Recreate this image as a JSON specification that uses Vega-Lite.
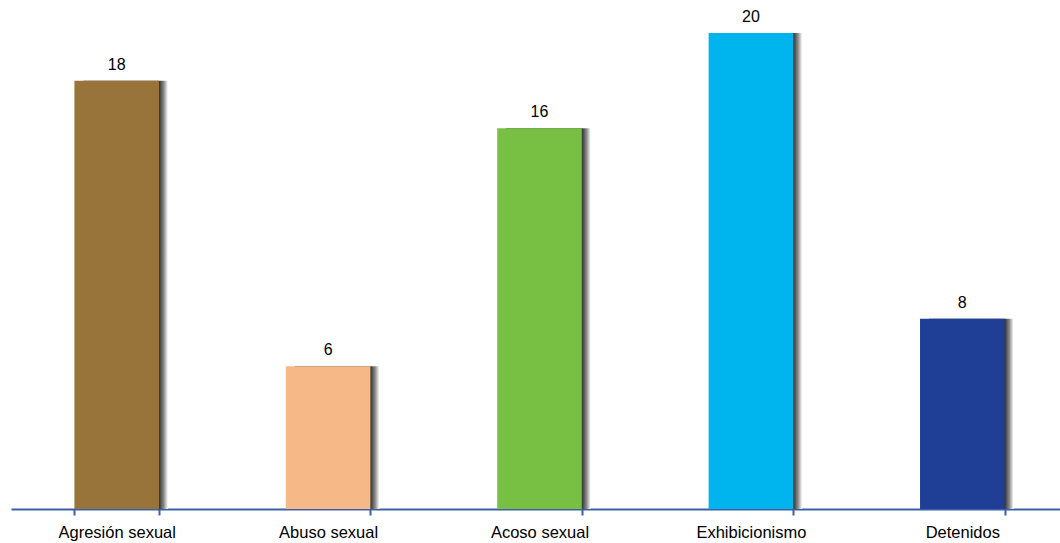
{
  "$schema": "https://vega.github.io/schema/vega-lite/v6.json",
  "width": 1057,
  "height": 509,
  "autosize": {"type": "none"},
  "padding": {"left": 11, "top": 0, "right": 0, "bottom": 34},
  "background": "white",
  "config": {"view": {"stroke": null}, "font": "Liberation Sans"},
  "data": {"values": [
    {"cat": "Agresión sexual", "value": 18, "color": "#98743A"},
    {"cat": "Abuso sexual", "value": 6, "color": "#F5B886"},
    {"cat": "Acoso sexual", "value": 16, "color": "#77C043"},
    {"cat": "Exhibicionismo", "value": 20, "color": "#00B5EE"},
    {"cat": "Detenidos", "value": 8, "color": "#1F3F96"}
  ]},
  "encoding": {
    "x": {"field": "cat", "type": "nominal", "sort": null,
      "scale": {"paddingInner": 0.6, "paddingOuter": 0.3},
      "axis": {"title": null, "labelAngle": 0, "labelFontSize": 16.5, "labelColor": "#000000",
        "labelFont": "Liberation Sans", "domainColor": "#3D5FA8", "domainWidth": 2,
        "tickColor": "#3D5FA8", "tickWidth": 2, "tickSize": 6, "tickBand": "extent",
        "labelPadding": 9}},
    "y": {"field": "value", "type": "quantitative", "scale": {"domain": [0, 21.39], "nice": false}, "axis": null}
  },
  "layer": [
    {"mark": {"type": "bar", "xOffset": 9,
      "color": {"gradient": "linear", "x1": 0, "x2": 1, "y1": 0, "y2": 0,
        "stops": [{"offset": 0, "color": "#3a3a3a"}, {"offset": 0.9, "color": "#3a3a3a"}, {"offset": 0.95, "color": "#8a8a8a"}, {"offset": 1, "color": "#ffffff"}]}}},
    {"mark": {"type": "bar"}, "encoding": {"color": {"field": "color", "type": "nominal", "scale": null}}},
    {"mark": {"type": "text", "baseline": "alphabetic", "dy": -11, "fontSize": 16, "color": "#000000"},
      "encoding": {"text": {"field": "value", "type": "quantitative"}}}
  ]
}
